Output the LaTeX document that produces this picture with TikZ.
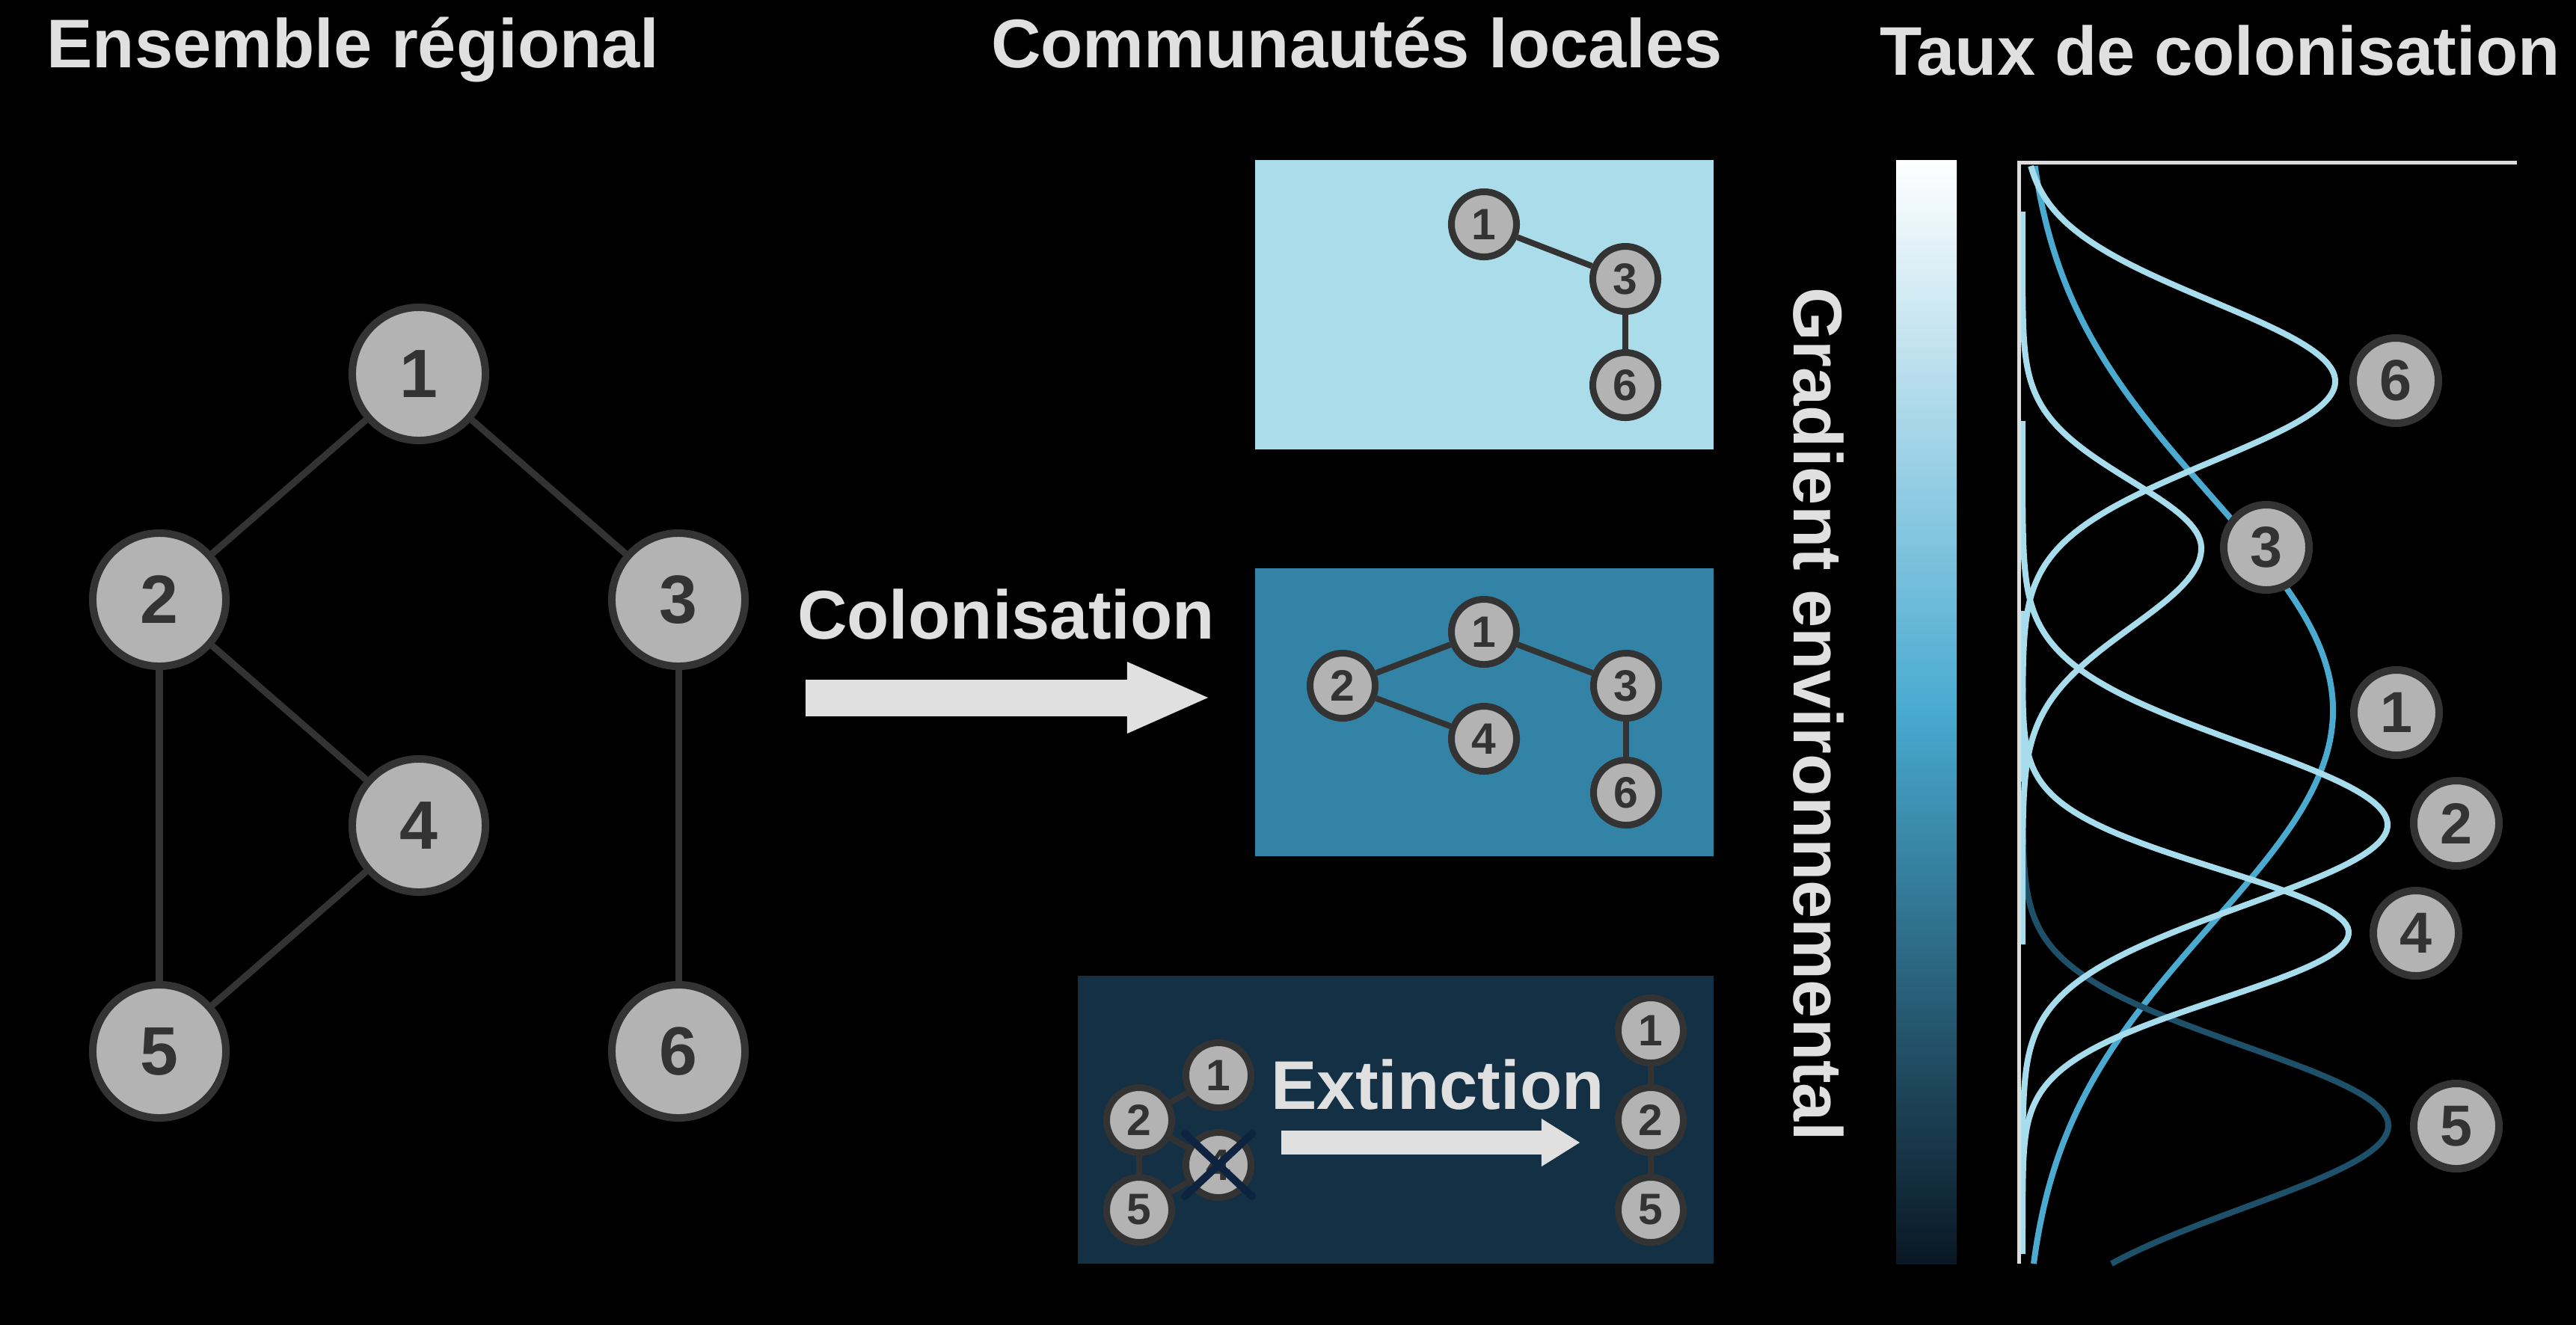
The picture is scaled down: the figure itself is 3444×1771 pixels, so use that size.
\documentclass[tikz,border=0pt]{standalone}
\usepackage{fontspec}
\setmainfont{Liberation Sans}
\usetikzlibrary{arrows.meta}
\definecolor{nodegrey}{HTML}{B3B3B3}
\definecolor{darkline}{HTML}{333333}
\definecolor{txtgrey}{HTML}{E0E0E0}
\definecolor{boxlight}{HTML}{AADCEA}
\definecolor{boxmid}{HTML}{3383A6}
\definecolor{boxdark}{HTML}{133044}
\definecolor{curvelight}{HTML}{A6DCEC}
\definecolor{curvemid}{HTML}{4AAAD0}
\definecolor{curvedark}{HTML}{1E506A}
\definecolor{gradmid}{HTML}{48AAD0}
\definecolor{gradbot}{HTML}{0A1724}
\definecolor{crossnavy}{HTML}{0E2340}
\definecolor{axisgrey}{HTML}{DCDCDC}
\begin{document}
\begin{tikzpicture}
[
    x=0.01cm, y=-0.01cm,
    heading/.style={text=txtgrey,inner sep=0pt,anchor=base,font=\fontsize{26.2}{30}\selectfont\bfseries},
    species/.style={circle,draw=darkline,fill=nodegrey,text=darkline,inner sep=0pt,line width=0.1cm,minimum size=1.78cm,font=\fontsize{26}{30}\selectfont\bfseries},
    local/.style={species,line width=0.09cm,minimum size=0.87cm,font=\fontsize{16.7}{20}\selectfont\bfseries},
    tag/.style={species,minimum size=1.14cm,font=\fontsize{22}{26}\selectfont\bfseries},
    link/.style={draw=darkline,line width=0.09cm},
    slink/.style={draw=darkline,line width=0.08cm},
    cross/.style={draw=crossnavy,line width=0.1cm,line cap=round},
    curve/.style={line width=0.08cm,samples=200,variable=\t},
    declare function={gauss(\t,\m,\wup,\wdn,\a)=2704+\a*exp(-0.5*((\t-\m)/ifthenelse(\t<\m,\wup,\wdn))^2);}
  ]

  \useasboundingbox (0,0) rectangle (3444,1771);
  \fill[black] (-10,-10) rectangle (3454,1781);

  % titles
  \node[heading] (tregion) at (472,90) {Ensemble régional};
  \node[heading] (tlocal) at (1814,90) {Communautés locales};
  \node[heading] (trate) at (2968,100) {Taux de colonisation};

  % regional pool
  \node[species] (n1) at (560,500) {1};
  \node[species] (n2) at (213,802) {2};
  \node[species] (n3) at (907,802) {3};
  \node[species] (n4) at (560,1104) {4};
  \node[species] (n5) at (213,1406) {5};
  \node[species] (n6) at (907,1406) {6};
  \draw[link] (n1) -- (n2);
  \draw[link] (n1) -- (n3);
  \draw[link] (n2) -- (n4);
  \draw[link] (n2) -- (n5);
  \draw[link] (n4) -- (n5);
  \draw[link] (n3) -- (n6);

  % colonisation
  \node[heading] (colon) at (1345,854) {Colonisation};
  \coordinate (colA) at (1077,933);
  \coordinate (colB) at (1615,933);
  \draw[txtgrey,line width=0.49cm,-{Triangle[length=1.08cm,width=0.96cm,line width=0pt]}] (colA) -- (colB);

  % local communities
  \fill[boxlight] (1678,214) rectangle (2291,601);
  \fill[boxmid] (1678,760) rectangle (2291,1145);
  \fill[boxdark] (1441,1305) rectangle (2291,1690);

  \node[local] (t1) at (1984,300) {1};
  \node[local] (t3) at (2173,373) {3};
  \node[local] (t6) at (2173,515) {6};
  \draw[slink] (t1) -- (t3);
  \draw[slink] (t3) -- (t6);

  \node[local] (m1) at (1984,845) {1};
  \node[local] (m2) at (1795,917) {2};
  \node[local] (m3) at (2174,917) {3};
  \node[local] (m4) at (1984,988) {4};
  \node[local] (m6) at (2174,1060) {6};
  \draw[slink] (m2) -- (m1);
  \draw[slink] (m1) -- (m3);
  \draw[slink] (m2) -- (m4);
  \draw[slink] (m3) -- (m6);

  \node[local] (b1) at (1629,1438) {1};
  \node[local] (b2) at (1523,1498) {2};
  \node[local] (b4) at (1629,1558) {4};
  \node[local] (b5) at (1523,1618) {5};
  \draw[slink] (b2) -- (b1);
  \draw[slink] (b2) -- (b4);
  \draw[slink] (b2) -- (b5);
  \draw[slink] (b5) -- (b4);
  \draw[cross] ([shift={(-45,-42)}]b4.center) -- ([shift={(45,42)}]b4.center);
  \draw[cross] ([shift={(-45,42)}]b4.center) -- ([shift={(45,-42)}]b4.center);

  \node[heading] (ext) at (1922,1483) {Extinction};
  \coordinate (extA) at (1713,1528);
  \coordinate (extB) at (2112,1528);
  \draw[txtgrey,line width=0.32cm,-{Triangle[length=0.51cm,width=0.64cm,line width=0pt]}] (extA) -- (extB);

  \node[local] (r1) at (2207,1378) {1};
  \node[local] (r2) at (2207,1498) {2};
  \node[local] (r5) at (2207,1618) {5};
  \draw[slink] (r1) -- (r2);
  \draw[slink] (r2) -- (r5);

  % gradient
  \shade[top color=white,bottom color=gradbot,middle color=gradmid] (2535,214) rectangle (2616,1690);
  \node[heading,rotate=-90] (grad) at (2398,955) {Gradient environnemental};

  % colonisation rates
  \draw[curve,curvemid] plot[domain=222:1690] ({gauss(\t,950,287,287,415)},\t);
  \draw[curve,curvedark] plot[domain=975:1690] ({gauss(\t,1505,106,110,489)},\t);
  \draw[curve,curvelight] plot[domain=222:1045] ({gauss(\t,510,107,107,418)},\t);
  \draw[curve,curvelight] plot[domain=283:1263] ({gauss(\t,733,90,106,239)},\t);
  \draw[curve,curvelight] plot[domain=563:1643] ({gauss(\t,1103,108,108,488)},\t);
  \draw[curve,curvelight] plot[domain=817:1677] ({gauss(\t,1247,84,89,436)},\t);
  \draw[axisgrey,line width=0.05cm] (2699,1690) -- (2699,217) -- (3365,217);

  \node[tag] (l6) at (3203,509) {6};
  \node[tag] (l3) at (3030,732) {3};
  \node[tag] (l1) at (3204,953) {1};
  \node[tag] (l2) at (3284,1101) {2};
  \node[tag] (l4) at (3230,1248) {4};
  \node[tag] (l5) at (3284,1506) {5};
\end{tikzpicture}
\end{document}
